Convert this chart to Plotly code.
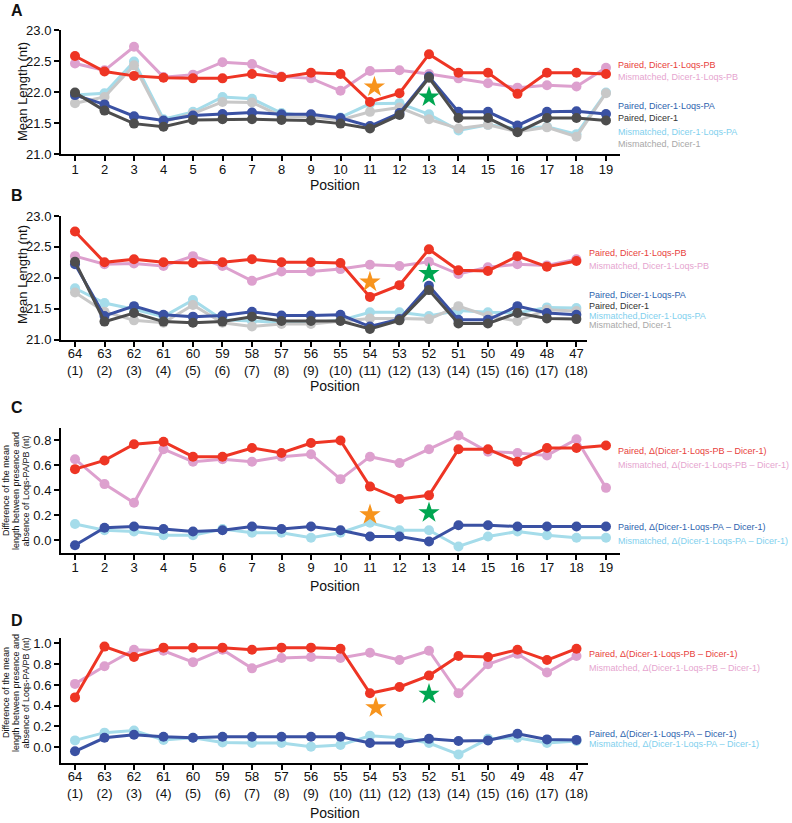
import plotly.graph_objects as go

# ---------------- data ----------------
pos_A = list(range(1, 20))                      # guide positions 1..19
pos_B = list(range(1, 19))                      # passenger positions (index)
labels_A = [str(i) for i in pos_A]
labels_B = [f"{n}<br>({i})" for n, i in zip(range(64, 46, -1), range(1, 19))]

# Panel A (mean length, nt)
A_paired_PB = [22.58, 22.33, 22.26, 22.23, 22.22, 22.22, 22.29, 22.24, 22.31, 22.29,
               21.84, 21.98, 22.61, 22.31, 22.31, 21.97, 22.31, 22.31, 22.29]
A_mism_PB = [22.46, 22.35, 22.73, 22.24, 22.28, 22.48, 22.45, 22.25, 22.22, 22.02,
             22.34, 22.35, 22.29, 22.22, 22.14, 22.07, 22.11, 22.09, 22.39]
A_paired_PA = [21.95, 21.80, 21.61, 21.54, 21.62, 21.645, 21.67, 21.64, 21.64, 21.58,
               21.45, 21.66, 22.25, 21.68, 21.68, 21.46, 21.68, 21.69, 21.645]
A_paired_D1 = [21.99, 21.70, 21.49, 21.44, 21.55, 21.56, 21.56, 21.55, 21.54, 21.49,
               21.41, 21.63, 22.23, 21.58, 21.58, 21.35, 21.58, 21.58, 21.54]
A_mism_PA = [21.95, 21.98, 22.49, 21.56, 21.68, 21.92, 21.89, 21.66, 21.61, 21.59,
             21.81, 21.82, 21.64, 21.38, 21.47, 21.41, 21.44, 21.32, 21.99]
A_mism_D1 = [21.82, 21.92, 22.43, 21.52, 21.65, 21.84, 21.83, 21.61, 21.60, 21.55,
             21.68, 21.75, 21.56, 21.41, 21.47, 21.36, 21.43, 21.28, 21.98]

# Panel B (mean length, nt)
B_paired_PB = [22.75, 22.25, 22.30, 22.25, 22.24, 22.25, 22.30, 22.25, 22.25, 22.24,
               21.69, 21.88, 22.46, 22.12, 22.11, 22.35, 22.18, 22.27]
B_mism_PB = [22.35, 22.22, 22.23, 22.19, 22.35, 22.19, 21.95, 22.10, 22.10, 22.14,
             22.21, 22.19, 22.26, 22.06, 22.17, 22.22, 22.20, 22.30]
B_paired_PA = [22.22, 21.38, 21.54, 21.40, 21.37, 21.39, 21.45, 21.39, 21.39, 21.40,
               21.21, 21.33, 21.87, 21.32, 21.32, 21.54, 21.43, 21.40]
B_paired_D1 = [22.26, 21.29, 21.43, 21.29, 21.27, 21.29, 21.37, 21.30, 21.30, 21.30,
               21.17, 21.31, 21.80, 21.26, 21.26, 21.43, 21.34, 21.33]
B_mism_PA = [21.83, 21.59, 21.49, 21.37, 21.64, 21.32, 21.30, 21.27, 21.27, 21.31,
             21.44, 21.44, 21.38, 21.47, 21.44, 21.43, 21.52, 21.51]
B_mism_D1 = [21.76, 21.45, 21.31, 21.27, 21.56, 21.27, 21.21, 21.25, 21.25, 21.30,
             21.34, 21.34, 21.33, 21.54, 21.38, 21.30, 21.48, 21.46]

# Panel C (difference, nt)
C_paired_PB = [0.57, 0.64, 0.77, 0.79, 0.67, 0.67, 0.74, 0.70, 0.78, 0.80,
               0.43, 0.33, 0.36, 0.73, 0.73, 0.63, 0.74, 0.74, 0.76]
C_mism_PB = [0.65, 0.45, 0.30, 0.73, 0.63, 0.65, 0.63, 0.67, 0.69, 0.49,
             0.67, 0.62, 0.73, 0.84, 0.71, 0.70, 0.68, 0.81, 0.42]
C_paired_PA = [-0.04, 0.10, 0.11, 0.09, 0.07, 0.08, 0.11, 0.09, 0.11, 0.08,
               0.03, 0.03, -0.01, 0.12, 0.12, 0.11, 0.11, 0.11, 0.11]
C_mism_PA = [0.13, 0.08, 0.07, 0.04, 0.04, 0.09, 0.06, 0.06, 0.02, 0.06,
             0.14, 0.08, 0.08, -0.05, 0.03, 0.07, 0.04, 0.02, 0.02]

# Panel D (difference, nt)
D_paired_PB = [0.48, 0.97, 0.87, 0.96, 0.96, 0.96, 0.94, 0.96, 0.96, 0.95,
               0.52, 0.58, 0.69, 0.88, 0.87, 0.94, 0.84, 0.95]
D_mism_PB = [0.61, 0.78, 0.94, 0.93, 0.82, 0.94, 0.76, 0.86, 0.87, 0.86,
             0.91, 0.84, 0.93, 0.52, 0.80, 0.90, 0.72, 0.88]
D_paired_PA = [-0.04, 0.09, 0.12, 0.10, 0.09, 0.10, 0.10, 0.10, 0.10, 0.10,
               0.04, 0.04, 0.08, 0.06, 0.065, 0.13, 0.075, 0.07]
D_mism_PA = [0.065, 0.14, 0.16, 0.07, 0.09, 0.045, 0.04, 0.04, 0.005, 0.02,
             0.11, 0.09, 0.04, -0.07, 0.08, 0.09, 0.04, 0.06]

# Stars (position, value)
stars_orange = {"A": (11.15, 22.08), "B": (11.0, 21.93), "C": (11.0, 0.205), "D": (11.2, 0.38)}
stars_green = {"A": (13.0, 21.92), "B": (13.0, 22.07), "C": (13.0, 0.22), "D": (13.0, 0.51)}

# ---------------- style ----------------
W, H = 792, 823
FONT = "Liberation Sans, Arial, Helvetica, sans-serif"
C_RED, C_PINK, C_BLUE = "#EE3524", "#DDA0CE", "#3A51A3"
C_DARK, C_CYAN, C_LGRAY = "#4D4D4D", "#A5DCEA", "#C8C8C8"
T_RED, T_PINK, T_BLUE = "#E8413B", "#E6A5CF", "#2E63AE"
T_DARK, T_CYAN, T_GRAY = "#333333", "#7FD0EE", "#A8A8A8"
ORANGE, GREEN = "#F7941D", "#00A651"


def fx(p):
    return p / W


def fy(p):
    return 1 - p / H


fig = go.Figure()


def add_line(x, y, color, ax):
    fig.add_trace(go.Scatter(
        x=x, y=y, mode="lines+markers", xaxis="x" + ax, yaxis="y" + ax,
        line=dict(color=color, width=3),
        marker=dict(color=color, size=10),
        showlegend=False, hoverinfo="skip"))


def add_star(pt, color, ax):
    fig.add_trace(go.Scatter(
        x=[pt[0]], y=[pt[1]], mode="markers", xaxis="x" + ax, yaxis="y" + ax,
        marker=dict(symbol="star", color=color, size=16, line=dict(width=0)),
        showlegend=False, hoverinfo="skip"))


# Panel A
for ys, c in [(A_mism_PA, C_CYAN), (A_mism_D1, C_LGRAY), (A_mism_PB, C_PINK),
              (A_paired_PA, C_BLUE), (A_paired_D1, C_DARK), (A_paired_PB, C_RED)]:
    add_line(pos_A, ys, c, "")
# Panel B
for ys, c in [(B_mism_PA, C_CYAN), (B_mism_D1, C_LGRAY), (B_mism_PB, C_PINK),
              (B_paired_PA, C_BLUE), (B_paired_D1, C_DARK), (B_paired_PB, C_RED)]:
    add_line(pos_B, ys, c, "2")
# Panel C
for ys, c in [(C_mism_PA, C_CYAN), (C_mism_PB, C_PINK), (C_paired_PA, C_BLUE), (C_paired_PB, C_RED)]:
    add_line(pos_A, ys, c, "3")
# Panel D
for ys, c in [(D_mism_PA, C_CYAN), (D_mism_PB, C_PINK), (D_paired_PA, C_BLUE), (D_paired_PB, C_RED)]:
    add_line(pos_B, ys, c, "4")

for key, ax in [("A", ""), ("B", "2"), ("C", "3"), ("D", "4")]:
    add_star(stars_orange[key], ORANGE, ax)
    add_star(stars_green[key], GREEN, ax)

axis_common = dict(showline=True, linecolor="black", linewidth=2, ticks="outside",
                   ticklen=5, tickwidth=1.5, tickcolor="black", showgrid=False,
                   zeroline=False, automargin=False,
                   tickfont=dict(family=FONT, size=13, color="#111"))
xaxis_common = dict(axis_common, ticklabelstandoff=-3)
xaxis_two_line = dict(axis_common, ticklabelstandoff=-4)

layout = dict(
    template=None,
    width=W, height=H, margin=dict(l=0, r=0, t=0, b=0, pad=0, autoexpand=False),
    paper_bgcolor="white", plot_bgcolor="white", showlegend=False,
    font=dict(family=FONT),
)
# A
layout["xaxis"] = dict(xaxis_common, domain=[fx(61), fx(620)], range=[0.525, 19.475],
                       tickvals=pos_A, ticktext=labels_A, anchor="y")
layout["yaxis"] = dict(axis_common, domain=[fy(154), fy(30)], range=[21, 23],
                       tickvals=[21, 21.5, 22, 22.5, 23], tickformat=".1f", anchor="x")
# B
layout["xaxis2"] = dict(xaxis_two_line, domain=[fx(61), fx(587)], range=[0.525, 18.36],
                        tickvals=pos_B, ticktext=labels_B, anchor="y2")
layout["yaxis2"] = dict(axis_common, domain=[fy(339.5), fy(216)], range=[21, 23],
                        tickvals=[21, 21.5, 22, 22.5, 23], tickformat=".1f", anchor="x2")
# C
layout["xaxis3"] = dict(xaxis_common, domain=[fx(61), fx(620)], range=[0.525, 19.475],
                        tickvals=pos_A, ticktext=labels_A, anchor="y3")
layout["yaxis3"] = dict(axis_common, domain=[fy(552.7), fy(428)], range=[-0.1, 0.9],
                        tickvals=[0, 0.2, 0.4, 0.6, 0.8], tickformat=".1f", anchor="x3")
# D
layout["xaxis4"] = dict(xaxis_two_line, domain=[fx(61), fx(588)], range=[0.525, 18.39],
                        tickvals=pos_B, ticktext=labels_B, anchor="y4")
layout["yaxis4"] = dict(axis_common, domain=[fy(762.7), fy(638.3)], range=[-0.15, 1.05],
                        tickvals=[0, 0.2, 0.4, 0.6, 0.8, 1.0], tickformat=".1f", anchor="x4")
fig.update_layout(**layout)

ann = []


def text(xp, yp, s, size, color="#111", bold=False, xanchor="left", angle=0):
    ann.append(dict(x=fx(xp), y=fy(yp), xref="paper", yref="paper", text=f"<b>{s}</b>" if bold else s,
                    showarrow=False, xanchor=xanchor, yanchor="middle", textangle=angle,
                    borderpad=0, font=dict(family=FONT, size=size, color=color)))


# panel letters
for s, yp in [("A", 10), ("B", 195), ("C", 407), ("D", 620)]:
    text(10, yp, s, 16, "#111", bold=True)

# x titles
for yp in [185, 386, 586, 813]:
    text(335, yp, "Position", 14, "#111", xanchor="center")

# y titles
text(22, 92, "Mean Length (nt)", 13, "#111", xanchor="center", angle=-90)
text(22, 275, "Mean Length (nt)", 13, "#111", xanchor="center", angle=-90)
diff_lines = ["Difference of the mean", "length between presence and", "absence of Loqs-PA/PB (nt)"]
for yc in [491, 693]:
    for xp, s in zip([6, 16, 25.5], diff_lines):
        text(xp, yc, s, 9, "#111", xanchor="center", angle=-90)

# legend labels
leg_A = [("Paired, Dicer-1·Loqs-PB", T_RED, 65), ("Mismatched, Dicer-1·Loqs-PB", T_PINK, 77),
         ("Paired, Dicer-1·Loqs-PA", T_BLUE, 106), ("Paired, Dicer-1", T_DARK, 118),
         ("Mismatched, Dicer-1·Loqs-PA", T_CYAN, 132), ("Mismatched, Dicer-1", T_GRAY, 144)]
for s, c, yp in leg_A:
    text(617, yp, s, 9, c)
leg_B = [("Paired, Dicer-1·Loqs-PB", T_RED, 253), ("Mismatched, Dicer-1·Loqs-PB", T_PINK, 266),
         ("Paired, Dicer-1·Loqs-PA", T_BLUE, 295), ("Paired, Dicer-1", T_DARK, 306),
         ("Mismatched,Dicer-1·Loqs-PA", T_CYAN, 316), ("Mismatched, Dicer-1", T_GRAY, 324.5)]
for s, c, yp in leg_B:
    text(588, yp, s, 9, c)
leg_C = [("Paired, Δ(Dicer-1·Loqs-PB – Dicer-1)", T_RED, 451),
         ("Mismatched, Δ(Dicer-1·Loqs-PB – Dicer-1)", T_PINK, 465),
         ("Paired, Δ(Dicer-1·Loqs-PA – Dicer-1)", T_BLUE, 527),
         ("Mismatched, Δ(Dicer-1·Loqs-PA – Dicer-1)", T_CYAN, 541)]
for s, c, yp in leg_C:
    text(617, yp, s, 9, c)
leg_D = [("Paired, Δ(Dicer-1·Loqs-PB – Dicer-1)", T_RED, 654),
         ("Mismatched, Δ(Dicer-1·Loqs-PB – Dicer-1)", T_PINK, 668),
         ("Paired, Δ(Dicer-1·Loqs-PA – Dicer-1)", T_BLUE, 734),
         ("Mismatched, Δ(Dicer-1·Loqs-PA – Dicer-1)", T_CYAN, 744)]
for s, c, yp in leg_D:
    text(588, yp, s, 9, c)

fig.update_layout(annotations=ann)
fig.write_html(
    "out.html",
    config={"displayModeBar": False},
    post_script="document.body.style.margin='0';document.body.style.padding='0';"
                "document.body.style.overflow='hidden';",
)
